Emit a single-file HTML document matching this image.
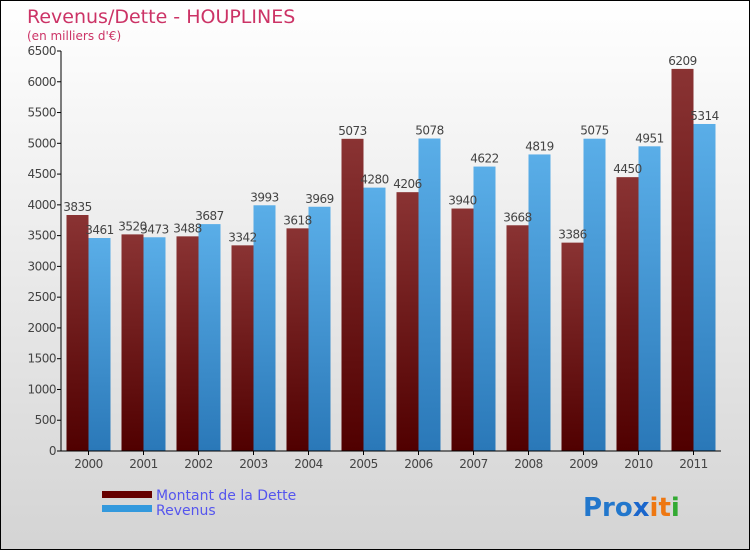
<!DOCTYPE html>
<html><head><meta charset="utf-8"><style>
html,body{margin:0;padding:0}
body{width:750px;height:550px;overflow:hidden;font-family:"DejaVu Sans","Liberation Sans",sans-serif}
#wrap{position:absolute;left:0;top:0;width:748px;height:548px;border:1px solid #000;background:linear-gradient(#ffffff,#d4d4d4)}
</style></head><body>
<div id="wrap">
<svg id="chart" width="748" height="548">
<defs>
<linearGradient id="gd" x1="0" y1="0" x2="0" y2="1"><stop offset="0" stop-color="#8a3333"/><stop offset="1" stop-color="#500000"/></linearGradient>
<linearGradient id="gr" x1="0" y1="0" x2="0" y2="1"><stop offset="0" stop-color="#5aaee8"/><stop offset="1" stop-color="#2a78b8"/></linearGradient>
</defs>
<text x="26" y="22" font-size="19" fill="#cc3366">Revenus/Dette - HOUPLINES</text>
<text x="26" y="39" font-size="12" fill="#cc3366">(en milliers d'€)</text>
<g id="grid"></g><g id="bars"></g><g id="axes"></g>
<g>
<rect x="101" y="490" width="50" height="7" fill="#660000"/>
<text x="155" y="499" font-size="14" fill="#5555ee">Montant de la Dette</text>
<rect x="101" y="504" width="50" height="7" fill="#3399dd"/>
<text x="155" y="514" font-size="14" fill="#5555ee">Revenus</text>
</g>
<g font-size="26" font-weight="bold">
<text x="582" y="515"><tspan fill="#2277cc">Pro</tspan><tspan fill="#1a66cc">x</tspan><tspan fill="#ee7711">i</tspan><tspan fill="#ee7711">t</tspan><tspan fill="#33aa33">i</tspan></text>
</g>
</svg>
</div>
<script>
const years=["2000","2001","2002","2003","2004","2005","2006","2007","2008","2009","2010","2011"];
const dette=[3835,3520,3488,3342,3618,5073,4206,3940,3668,3386,4450,6209];
const revenus=[3461,3473,3687,3993,3969,4280,5078,4622,4819,5075,4951,5314];
const ticks=[0,500,1000,1500,2000,2500,3000,3500,4000,4500,5000,5500,6000,6500];
const NS="http://www.w3.org/2000/svg";
const x0=60,gw=55,y0=450,ymax=6500,ph=400;
const y=v=>y0-v/ymax*ph;
function mk(t,a,p,txt){const e=document.createElementNS(NS,t);for(const k in a)e.setAttribute(k,a[k]);if(txt!==undefined)e.textContent=txt;p.appendChild(e);return e;}
const gA=document.getElementById('axes'),gB=document.getElementById('bars');
const ax=mk('line',{x1:x0,y1:y(ymax),x2:x0,y2:y0,stroke:'#000'},gA);


const xa=mk('line',{x1:x0,y1:y0,x2:x0+gw*years.length,y2:y0,stroke:'#000'},gA);


ticks.forEach(t=>{
 mk('line',{x1:x0-4,y1:y(t),x2:x0,y2:y(t),stroke:'#000'},gA);
 const l=mk('text',{x:x0-5,y:y(t)+4,'font-size':12,fill:'#444','text-anchor':'end','letter-spacing':'-0.5'},gA,t);
 
 
});
years.forEach((yr,i)=>{
 const c=x0+gw*i+27.5;
 mk('line',{x1:c,y1:y0,x2:c,y2:y0+4,stroke:'#000'},gA);
 const l=mk('text',{x:c,y:y0+17,'font-size':12,fill:'#444','text-anchor':'middle','letter-spacing':'-0.5'},gA,yr);
 
 
 const b1=mk('rect',{x:c-22,y:y(dette[i]),width:22,height:y0-y(dette[i]),fill:'url(#gd)'},gB);
 
 
 const b2=mk('rect',{x:c,y:y(revenus[i]),width:22,height:y0-y(revenus[i]),fill:'url(#gr)'},gB);
 
 
 const v1=mk('text',{x:c-11,y:y(dette[i])-4,'font-size':12,fill:'#444','text-anchor':'middle','letter-spacing':'-0.5'},gB,dette[i]);
 
 
 const v2=mk('text',{x:c+11,y:y(revenus[i])-4,'font-size':12,fill:'#444','text-anchor':'middle','letter-spacing':'-0.5'},gB,revenus[i]);
 
 
});
</script>
</body></html>
